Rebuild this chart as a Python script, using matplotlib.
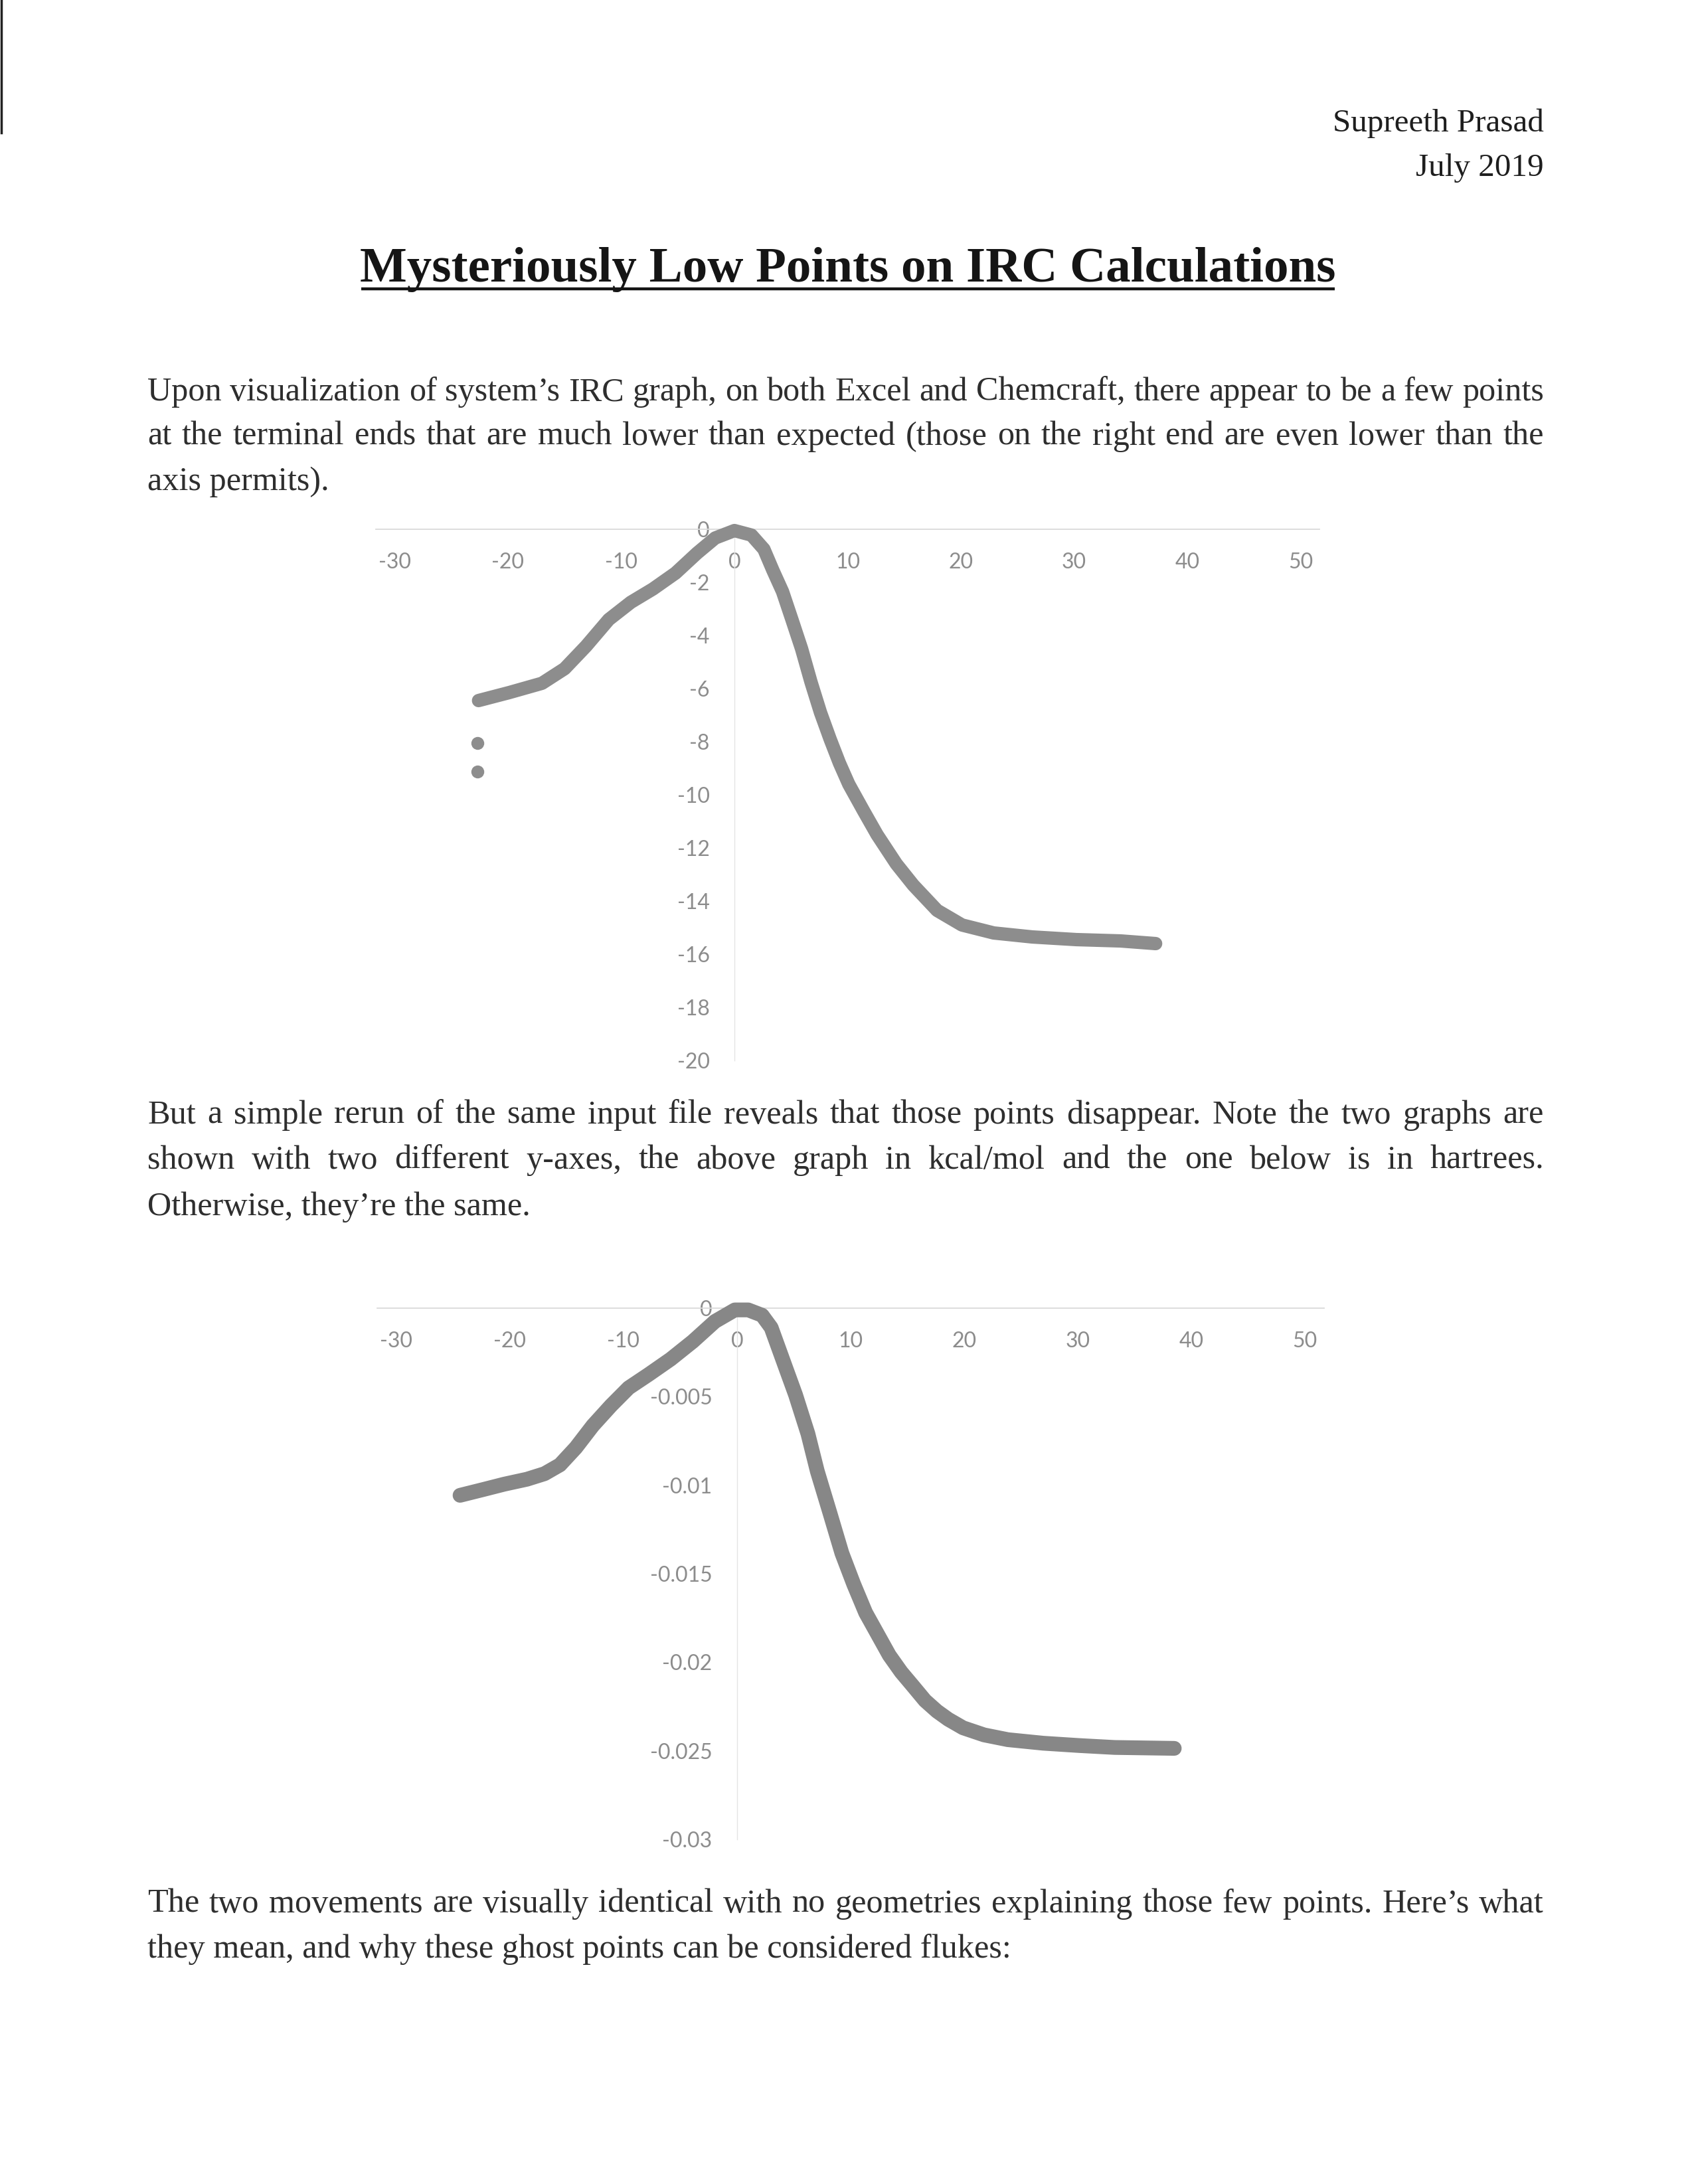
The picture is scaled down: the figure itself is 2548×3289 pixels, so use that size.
import matplotlib
matplotlib.use("Agg")
import matplotlib.pyplot as plt

# ---------------- data ----------------
# Chart 1: IRC energy in kcal/mol (reaction coordinate vs relative energy)
irc1_x = [-22.6, -19.9, -17.0, -15.0, -13.1, -11.1, -9.15, -7.2, -5.2, -3.3, -1.7,
          0.0, 1.5, 2.6, 3.4, 4.25, 5.1, 5.93, 6.76, 7.6, 8.45, 9.27, 10.1, 11.4,
          12.6, 14.3, 15.8, 17.9, 20.1, 22.9, 26.3, 30.2, 34.1, 37.2]
irc1_y = [-6.45, -6.15, -5.8, -5.25, -4.4, -3.4, -2.75, -2.25, -1.65, -0.9, -0.33,
          -0.05, -0.22, -0.75, -1.55, -2.35, -3.43, -4.5, -5.75, -6.9, -7.9, -8.8,
          -9.6, -10.6, -11.5, -12.6, -13.4, -14.35, -14.9, -15.2, -15.35, -15.45,
          -15.5, -15.6]
ghost_x = [-22.7, -22.7]
ghost_y = [-8.05, -9.13]

# Chart 2: same IRC in hartrees (rerun)
irc2_x = [-24.4, -22.4, -20.5, -18.5, -16.96, -15.6, -14.2, -12.7, -11.1, -9.55,
          -7.8, -5.85, -3.9, -1.95, -0.2, 0.98, 2.2, 3.0, 4.3, 5.15, 6.24, 7.06,
          8.19, 9.23, 10.27, 11.32, 12.36, 13.4, 14.45, 15.5, 16.55, 17.6, 18.6,
          19.9, 21.75, 23.85, 26.96, 30.1, 33.25, 38.5]
irc2_y = [-0.01057, -0.01025, -0.00994, -0.00966, -0.00935, -0.00885, -0.00788,
          -0.00663, -0.0055, -0.0045, -0.00375, -0.00288, -0.00188, -0.00075,
          -0.0001, -0.0001, -0.0004, -0.0011, -0.0034, -0.0049, -0.0071, -0.0092,
          -0.0116, -0.01384, -0.01559, -0.0172, -0.0184, -0.0196, -0.02055,
          -0.02135, -0.02216, -0.02276, -0.02322, -0.0237, -0.0241, -0.02437,
          -0.02457, -0.0247, -0.02481, -0.02486]

x_ticks = [-30, -20, -10, 0, 10, 20, 30, 40, 50]
x_tick_labels = ["-30", "-20", "-10", "0", "10", "20", "30", "40", "50"]
y1_ticks = [0, -2, -4, -6, -8, -10, -12, -14, -16, -18, -20]
y1_tick_labels = ["0", "-2", "-4", "-6", "-8", "-10", "-12", "-14", "-16", "-18", "-20"]
y2_ticks = [0, -0.005, -0.01, -0.015, -0.02, -0.025, -0.03]
y2_tick_labels = ["0", "-0.005", "-0.01", "-0.015", "-0.02", "-0.025", "-0.03"]

author = "Supreeth Prasad"
date = "July 2019"
title = "Mysteriously Low Points on IRC Calculations"
para1 = ["Upon visualization of system\u2019s IRC graph, on both Excel and Chemcraft, there appear to be a few points",
         "at the terminal ends that are much lower than expected (those on the right end are even lower than the",
         "axis permits)."]
para2 = ["But a simple rerun of the same input file reveals that those points disappear. Note the two graphs are",
         "shown with two different y-axes, the above graph in kcal/mol and the one below is in hartrees.",
         "Otherwise, they\u2019re the same."]
para3 = ["The two movements are visually identical with no geometries explaining those few points. Here\u2019s what",
         "they mean, and why these ghost points can be considered flukes:"]

# ---------------- page ----------------
W, H = 2548, 3289
fig = plt.figure(figsize=(W / 100, H / 100), dpi=100)
fig.patch.set_facecolor("white")
page = fig.add_axes([0, 0, 1, 1], zorder=0)
page.set_xlim(0, W)
page.set_ylim(H, 0)
page.axis("off")
renderer = fig.canvas.get_renderer()

SERIF = "Liberation Serif"
BODY_COL = "#2e2e2e"


def text_width(s, size, **kw):
    t = page.text(0, 0, s, fontsize=size, **kw)
    w = t.get_window_extent(renderer).width
    t.remove()
    return w


def fit_size(s, target, **kw):
    return 20.0 * target / text_width(s, 20, **kw)


LEFT, RIGHT = 222, 2325
body_size = fit_size(para3[-1], 1300, family=SERIF)


def paragraph(lines, baselines):
    for i, (line, y) in enumerate(zip(lines, baselines)):
        if i == len(lines) - 1:
            page.text(LEFT, y, line, fontsize=body_size, family=SERIF, color=BODY_COL,
                      ha="left", va="baseline")
            continue
        words = line.split()
        widths = [text_width(w, body_size, family=SERIF) for w in words]
        gap = (RIGHT - LEFT - sum(widths)) / (len(words) - 1)
        x = LEFT
        for w, wd in zip(words, widths):
            page.text(x, y, w, fontsize=body_size, family=SERIF, color=BODY_COL,
                      ha="left", va="baseline")
            x += wd + gap


# header
head_size = fit_size(author, 318, family=SERIF)
page.text(RIGHT, 198, author, fontsize=head_size, family=SERIF, color="#1e1e1e",
          ha="right", va="baseline")
page.text(RIGHT, 265, date, fontsize=head_size, family=SERIF, color="#1e1e1e",
          ha="right", va="baseline")

# title
title_size = fit_size(title, 1466, family=SERIF, weight="bold")
page.text((544 + 2010) / 2, 424, title, fontsize=title_size, family=SERIF, weight="bold",
          color="#151515", ha="center", va="baseline")
page.plot([544, 2010], [435, 435], color="#151515", lw=3.2, solid_capstyle="butt")

# scan edge mark at top-left
page.plot([2, 2], [0, 200], color="#222222", lw=2.5)

paragraph(para1, [603, 670, 738])
paragraph(para2, [1692, 1760, 1830])
paragraph(para3, [2880, 2948])

# ---------------- charts ----------------
TICK_FONT = "Lato"
TICK_COL = "#8c8c8c"
TICK_SIZE = 23
CURVE_COL = "#8d8d8d"


def make_chart(x0px, ux, top_px, bot_px, xlim, ylim):
    left = x0px + xlim[0] * ux
    right = x0px + xlim[1] * ux
    ax = fig.add_axes([left / W, 1 - bot_px / H, (right - left) / W, (bot_px - top_px) / H],
                      zorder=2)
    ax.set_facecolor("none")
    ax.set_xlim(*xlim)
    ax.set_ylim(*ylim)
    for s in ["top", "right"]:
        ax.spines[s].set_visible(False)
    ax.spines["bottom"].set_position(("data", 0))
    ax.spines["left"].set_position(("data", 0))
    ax.spines["bottom"].set_color("#dadada")
    ax.spines["bottom"].set_linewidth(1.3)
    ax.spines["left"].set_color("#e4e4e4")
    ax.spines["left"].set_linewidth(1.0)
    ax.set_xticks(x_ticks)
    ax.set_xticklabels(x_tick_labels, family=TICK_FONT, fontsize=TICK_SIZE, color=TICK_COL)
    ax.tick_params(axis="x", length=0, pad=25)
    ax.tick_params(axis="y", length=0, pad=27)
    return ax


ax1 = make_chart(1106, 17.05, 797, 1597, (-31.7, 51.7), (-20, 0))
ax1.set_yticks(y1_ticks)
ax1.set_yticklabels(y1_tick_labels, family=TICK_FONT, fontsize=TICK_SIZE, color=TICK_COL)
ax1.plot(irc1_x, irc1_y, color=CURVE_COL, lw=14.5, solid_capstyle="round",
         solid_joinstyle="round", clip_on=False, zorder=3)
ax1.plot(ghost_x, ghost_y, "o", color=CURVE_COL, ms=14, mec="none", clip_on=False, zorder=3)

ax2 = make_chart(1110, 17.1, 1970, 2770, (-31.7, 51.7), (-0.03, 0))
ax2.set_yticks(y2_ticks)
ax2.set_yticklabels(y2_tick_labels, family=TICK_FONT, fontsize=TICK_SIZE, color=TICK_COL)
ax2.plot(irc2_x, irc2_y, color="#878787", lw=16, solid_capstyle="round",
         solid_joinstyle="round", clip_on=False, zorder=3)

fig.savefig("out.png", dpi=100, facecolor="white")
